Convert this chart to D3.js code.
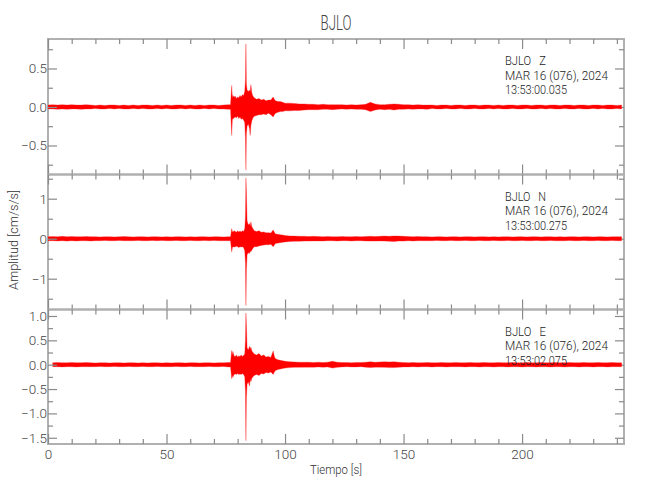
<!DOCTYPE html>
<html><head><meta charset="utf-8">
<script src="https://cdn.jsdelivr.net/npm/d3@7"></script>
<style>body{margin:0;background:#fff} svg{display:block}</style>
</head><body>
<svg id="chart" width="650" height="500"></svg>
<script>
// ---------------- DATA ----------------
const stationName = "BJLO";
const dateLabel = "MAR 16 (076), 2024";
const channelNames = ["Z", "N", "E"];
const startTimes = ["13:53:00.035", "13:53:00.275", "13:53:02.075"];
const titleText = "BJLO";
const xTitle = "Tiempo [s]";
const yTitle = "Amplitud [cm/s/s]";

const xDomain = [0, 243];
const xMajorTicks = [0, 50, 100, 150, 200];
const xMinorTicks = [10, 20, 30, 40, 60, 70, 80, 90, 110, 120, 130, 140, 160, 170, 180, 190, 210, 220, 230, 240];

const yDomainZ = [-0.877, 0.883];
const yMajorZ = [-0.5, 0, 0.5];
const yMinorZ = [-0.75, -0.25, 0.25, 0.75];
const yDomainN = [-1.77, 1.605];
const yMajorN = [-1, 0, 1];
const yMinorN = [-1.5, -0.5, 0.5, 1.5];
const yDomainE = [-1.628, 1.133];
const yMajorE = [-1.5, -1, -0.5, 0, 0.5, 1];
const yMinorE = [-1.25, -0.75, -0.25, 0.25, 0.75];

// time grid (s) for envelope samples
const timeSec = [0,2,4,6,8,10,12,14,16,18,20,22,24,26,28,30,32,34,36,38,40,42,44,46,48,50,52,54,56,58,60,62,64,66,68,70,72,74,76,
 77,77.5,77.8,78,78.5,79,79.5,80,80.5,81,81.5,82,82.5,83,83.3,83.5,83.7,84,84.5,85,85.3,85.6,86,86.5,87,88,89,90,91,92,93,94,95,95.5,96,97,98,99,100,
 102,104,106,108,110,112,114,116,118,120,122,124,126,128,130,132,134,136,138,140,142,144,146,148,150,152,154,156,158,160,
 162,164,166,168,170,172,174,176,178,180,182,184,186,188,190,192,194,196,198,200,202,204,206,208,210,212,214,216,218,220,
 222,224,226,228,230,232,234,236,238,240,242];

// Z channel upper / lower envelope (cm/s/s)
const zHi = [0.025,0.03,0.025,0.03,0.025,0.03,0.025,0.025,0.03,0.025,0.02,0.025,0.02,0.025,0.025,0.02,0.025,0.02,0.025,0.02,0.025,0.025,0.02,0.025,0.02,0.025,0.02,0.025,0.025,0.02,0.025,0.02,0.025,0.02,0.025,0.025,0.02,0.025,0.03,
 0.03,0.28,0.12,0.15,0.13,0.14,0.11,0.13,0.12,0.15,0.13,0.16,0.15,0.2,0.35,0.82,0.3,0.22,0.2,0.22,0.2,0.29,0.18,0.14,0.12,0.1,0.11,0.09,0.1,0.08,0.09,0.09,0.13,0.1,0.08,0.07,0.07,0.06,0.05,
 0.05,0.045,0.04,0.04,0.035,0.035,0.03,0.035,0.03,0.03,0.03,0.03,0.025,0.03,0.025,0.03,0.035,0.06,0.04,0.03,
 0.03,0.035,0.04,0.035,0.03,0.03,0.025,0.03,0.025,0.025,0.025,0.02,0.025,0.025,0.02,0.025,0.025,0.02,0.025,0.025,
 0.02,0.025,0.025,0.02,0.025,0.02,0.025,0.025,0.02,0.025,0.025,0.02,0.025,0.025,0.02,0.025,0.025,0.02,0.025,0.025,
 0.02,0.025,0.025,0.02,0.025,0.025,0.02,0.025,0.025,0.02,0.025];
const zLo = [-0.025,-0.025,-0.03,-0.025,-0.03,-0.025,-0.025,-0.03,-0.025,-0.025,-0.02,-0.025,-0.025,-0.02,-0.025,-0.02,-0.025,-0.025,-0.02,-0.025,-0.02,-0.025,-0.025,-0.02,-0.025,-0.02,-0.025,-0.025,-0.02,-0.025,-0.02,-0.025,-0.025,-0.02,-0.025,-0.02,-0.025,-0.025,-0.03,
 -0.03,-0.37,-0.15,-0.16,-0.14,-0.13,-0.14,-0.12,-0.15,-0.13,-0.16,-0.15,-0.17,-0.2,-0.4,-0.82,-0.35,-0.25,-0.22,-0.28,-0.37,-0.24,-0.18,-0.14,-0.12,-0.11,-0.1,-0.1,-0.09,-0.1,-0.08,-0.1,-0.13,-0.1,-0.08,-0.07,-0.06,-0.06,-0.05,
 -0.05,-0.045,-0.045,-0.04,-0.035,-0.035,-0.035,-0.03,-0.03,-0.035,-0.03,-0.025,-0.03,-0.025,-0.03,-0.03,-0.035,-0.06,-0.04,-0.03,
 -0.035,-0.03,-0.04,-0.03,-0.03,-0.025,-0.03,-0.025,-0.025,-0.03,-0.02,-0.025,-0.025,-0.02,-0.025,-0.025,-0.02,-0.025,-0.025,-0.02,
 -0.025,-0.025,-0.02,-0.025,-0.02,-0.025,-0.025,-0.02,-0.025,-0.025,-0.02,-0.025,-0.025,-0.02,-0.025,-0.02,-0.025,-0.025,-0.02,-0.025,
 -0.025,-0.02,-0.025,-0.025,-0.02,-0.025,-0.02,-0.025,-0.025,-0.02,-0.025];

// N channel
const nHi = [0.05,0.055,0.05,0.06,0.05,0.055,0.05,0.05,0.055,0.05,0.05,0.045,0.05,0.05,0.045,0.05,0.055,0.05,0.045,0.05,0.05,0.045,0.05,0.05,0.045,0.05,0.045,0.05,0.05,0.045,0.05,0.045,0.05,0.05,0.045,0.05,0.05,0.045,0.05,
 0.05,0.25,0.18,0.17,0.2,0.18,0.16,0.2,0.17,0.19,0.17,0.2,0.18,0.25,0.55,1.52,1.17,0.45,0.35,0.38,0.32,0.42,0.3,0.25,0.2,0.18,0.2,0.16,0.17,0.15,0.15,0.14,0.22,0.16,0.12,0.11,0.1,0.09,0.08,
 0.07,0.065,0.06,0.06,0.055,0.06,0.055,0.05,0.055,0.05,0.05,0.055,0.05,0.05,0.055,0.05,0.055,0.06,0.055,0.06,
 0.065,0.06,0.07,0.065,0.06,0.055,0.05,0.055,0.05,0.05,0.045,0.05,0.05,0.045,0.05,0.05,0.045,0.05,0.05,0.045,
 0.05,0.05,0.045,0.05,0.045,0.05,0.05,0.045,0.05,0.05,0.045,0.05,0.05,0.045,0.05,0.05,0.045,0.05,0.045,0.05,
 0.05,0.045,0.05,0.05,0.045,0.05,0.05,0.045,0.05,0.05,0.05];
const nLo = [-0.05,-0.05,-0.055,-0.05,-0.06,-0.05,-0.055,-0.05,-0.05,-0.055,-0.05,-0.05,-0.045,-0.05,-0.05,-0.045,-0.05,-0.05,-0.05,-0.045,-0.05,-0.05,-0.045,-0.05,-0.045,-0.05,-0.05,-0.045,-0.05,-0.05,-0.045,-0.05,-0.05,-0.045,-0.05,-0.045,-0.05,-0.05,-0.05,
 -0.05,-0.33,-0.22,-0.2,-0.21,-0.2,-0.19,-0.2,-0.22,-0.2,-0.21,-0.2,-0.22,-0.3,-0.6,-1.67,-0.78,-0.4,-0.35,-0.37,-0.3,-0.33,-0.28,-0.24,-0.2,-0.2,-0.18,-0.17,-0.16,-0.15,-0.15,-0.14,-0.2,-0.16,-0.12,-0.11,-0.1,-0.09,-0.08,
 -0.07,-0.065,-0.065,-0.06,-0.06,-0.055,-0.055,-0.055,-0.05,-0.05,-0.055,-0.05,-0.05,-0.055,-0.05,-0.05,-0.055,-0.06,-0.06,-0.055,
 -0.06,-0.065,-0.07,-0.06,-0.06,-0.05,-0.055,-0.05,-0.05,-0.05,-0.05,-0.045,-0.05,-0.05,-0.045,-0.05,-0.05,-0.045,-0.05,-0.05,
 -0.045,-0.05,-0.05,-0.045,-0.05,-0.05,-0.045,-0.05,-0.05,-0.045,-0.05,-0.05,-0.045,-0.05,-0.05,-0.045,-0.05,-0.05,-0.05,-0.045,
 -0.05,-0.05,-0.045,-0.05,-0.05,-0.045,-0.05,-0.05,-0.045,-0.05,-0.05];

// E channel (record starts ~2 s later)
const eHi = [null,0.04,0.045,0.04,0.04,0.045,0.04,0.04,0.045,0.04,0.035,0.04,0.04,0.035,0.04,0.04,0.035,0.04,0.04,0.035,0.04,0.035,0.04,0.04,0.035,0.04,0.035,0.04,0.04,0.035,0.04,0.04,0.035,0.04,0.04,0.035,0.04,0.04,0.045,
 0.045,0.29,0.2,0.27,0.18,0.17,0.2,0.16,0.18,0.17,0.2,0.17,0.19,0.22,0.5,1.06,0.82,0.35,0.3,0.38,0.32,0.36,0.28,0.25,0.22,0.2,0.23,0.18,0.2,0.16,0.17,0.15,0.28,0.17,0.12,0.1,0.09,0.08,0.07,
 0.06,0.055,0.05,0.05,0.05,0.045,0.05,0.045,0.05,0.07,0.05,0.045,0.045,0.04,0.045,0.045,0.05,0.06,0.05,0.055,
 0.06,0.055,0.06,0.05,0.045,0.04,0.045,0.04,0.04,0.045,0.04,0.04,0.045,0.04,0.04,0.045,0.04,0.04,0.045,0.04,
 0.04,0.045,0.04,0.04,0.045,0.04,0.04,0.045,0.04,0.04,0.045,0.04,0.04,0.045,0.04,0.04,0.045,0.04,0.04,0.045,
 0.04,0.04,0.045,0.04,0.04,0.045,0.04,0.04,0.045,0.04,0.04];
const eLo = [null,-0.04,-0.04,-0.045,-0.04,-0.04,-0.045,-0.04,-0.04,-0.04,-0.04,-0.035,-0.04,-0.04,-0.035,-0.04,-0.04,-0.035,-0.04,-0.04,-0.035,-0.04,-0.04,-0.035,-0.04,-0.04,-0.04,-0.035,-0.04,-0.04,-0.035,-0.04,-0.04,-0.04,-0.035,-0.04,-0.04,-0.035,-0.045,
 -0.045,-0.29,-0.22,-0.26,-0.2,-0.19,-0.2,-0.18,-0.2,-0.19,-0.2,-0.18,-0.2,-0.25,-0.55,-1.56,-0.68,-0.4,-0.35,-0.44,-0.3,-0.35,-0.28,-0.25,-0.22,-0.2,-0.22,-0.18,-0.19,-0.16,-0.17,-0.15,-0.2,-0.15,-0.12,-0.1,-0.09,-0.08,-0.07,
 -0.06,-0.055,-0.055,-0.05,-0.05,-0.05,-0.045,-0.05,-0.045,-0.07,-0.055,-0.045,-0.04,-0.045,-0.045,-0.04,-0.05,-0.06,-0.05,-0.05,
 -0.055,-0.06,-0.06,-0.05,-0.045,-0.045,-0.04,-0.045,-0.04,-0.04,-0.045,-0.04,-0.04,-0.045,-0.04,-0.04,-0.04,-0.045,-0.04,-0.04,
 -0.045,-0.04,-0.04,-0.045,-0.04,-0.04,-0.045,-0.04,-0.04,-0.045,-0.04,-0.04,-0.045,-0.04,-0.04,-0.045,-0.04,-0.04,-0.045,-0.04,
 -0.04,-0.045,-0.04,-0.04,-0.045,-0.04,-0.04,-0.045,-0.04,-0.04,-0.04];

// ---------------- DRAWING ----------------
const FONT = "Roboto,'Liberation Sans',sans-serif";
const FONT_WEIGHT = 300;
const AXIS_COLOR = "#b0b0b0";
const TICK_COLOR = "#8a8a8a";
const xLeft = 48, xRight = 624;
const panelTops = [39, 174.5, 309.5];
const panelBottoms = [174.5, 309.5, 444];

const svg = d3.select("#chart");
const x = d3.scaleLinear().domain(xDomain).range([xLeft, xRight]);

const panels = [
  {hi: zHi, lo: zLo, dom: yDomainZ, major: yMajorZ, minor: yMinorZ, fmt: d3.format(".1f")},
  {hi: nHi, lo: nLo, dom: yDomainN, major: yMajorN, minor: yMinorN, fmt: d3.format("d")},
  {hi: eHi, lo: eLo, dom: yDomainE, major: yMajorE, minor: yMinorE, fmt: d3.format(".1f")}
];

const frameLayer = svg.append("g");
const traceLayer = svg.append("g");
const textLayer = svg.append("g");

function styleAxis(g) {
  g.select(".domain").remove();
  g.selectAll(".tick line").attr("stroke", TICK_COLOR).attr("stroke-width", 1.2);
  g.selectAll(".tick text").attr("fill", "#444").attr("font-family", FONT)
    .attr("font-weight", FONT_WEIGHT).attr("font-size", 13.5);
}

panels.forEach((p, i) => {
  const top = panelTops[i], bot = panelBottoms[i];
  const y = d3.scaleLinear().domain(p.dom).range([bot, top]);

  frameLayer.append("rect")
    .attr("x", xLeft).attr("y", top).attr("width", xRight - xLeft).attr("height", bot - top)
    .attr("fill", "none").attr("stroke", AXIS_COLOR).attr("stroke-width", 2);

  frameLayer.append("g").attr("transform", `translate(${xLeft},0)`)
    .call(d3.axisLeft(y).tickValues(p.minor).tickSize(-5).tickFormat(""))
    .call(styleAxis);
  textLayer.append("g").attr("transform", `translate(${xLeft},0)`)
    .call(d3.axisLeft(y).tickValues(p.major).tickSize(-9).tickPadding(1).tickFormat(p.fmt))
    .call(styleAxis);
  frameLayer.append("g").attr("transform", `translate(${xRight},0)`)
    .call(d3.axisRight(y).tickValues(p.minor).tickSize(-5).tickFormat(""))
    .call(styleAxis);
  frameLayer.append("g").attr("transform", `translate(${xRight},0)`)
    .call(d3.axisRight(y).tickValues(p.major).tickSize(-9).tickFormat(""))
    .call(styleAxis);

  frameLayer.append("g").attr("transform", `translate(0,${top})`)
    .call(d3.axisTop(x).tickValues(xMinorTicks).tickSize(-5).tickFormat(""))
    .call(styleAxis);
  frameLayer.append("g").attr("transform", `translate(0,${top})`)
    .call(d3.axisTop(x).tickValues(xMajorTicks).tickSize(-10).tickFormat(""))
    .call(styleAxis);
  frameLayer.append("g").attr("transform", `translate(0,${bot})`)
    .call(d3.axisBottom(x).tickValues(xMinorTicks).tickSize(-5).tickFormat(""))
    .call(styleAxis);
  const isLast = i === panels.length - 1;
  (isLast ? textLayer : frameLayer).append("g").attr("transform", `translate(0,${bot})`)
    .call(d3.axisBottom(x).tickValues(xMajorTicks).tickSize(-10).tickPadding(5)
      .tickFormat(isLast ? d3.format("d") : ""))
    .call(styleAxis);

  const n = Math.min(timeSec.length, p.hi.length, p.lo.length);
  const data = d3.range(n).map(k => ({t: timeSec[k], hi: p.hi[k], lo: p.lo[k]}));
  const area = d3.area()
    .defined(d => d.hi != null && d.lo != null)
    .x(d => x(d.t)).y0(d => y(d.lo)).y1(d => y(d.hi));
  traceLayer.append("path").datum(data)
    .attr("d", area)
    .attr("fill", "#ff0000")
    .attr("stroke", "#ff2020").attr("stroke-width", 0.4).attr("stroke-opacity", 0.8)
    .attr("stroke-linejoin", "round");

  const lines = [`${stationName}   ${channelNames[i]}`, dateLabel, startTimes[i]];
  const widths = [41, 103, 62];
  lines.forEach((s, j) => {
    textLayer.append("text")
      .attr("x", 505).attr("y", top + 26 + j * 14.5)
      .attr("font-family", FONT).attr("font-weight", FONT_WEIGHT)
      .attr("font-size", 13.5).attr("fill", "#222")
      .attr("textLength", widths[j]).attr("lengthAdjust", "spacingAndGlyphs")
      .attr("xml:space", "preserve")
      .style("white-space", "pre")
      .text(s);
  });
});

textLayer.append("text")
  .attr("x", 336).attr("y", 30).attr("text-anchor", "middle")
  .attr("font-family", FONT).attr("font-weight", FONT_WEIGHT)
  .attr("font-size", 19.5).attr("fill", "#444")
  .attr("textLength", 31).attr("lengthAdjust", "spacingAndGlyphs")
  .text(titleText);

textLayer.append("text")
  .attr("x", 336).attr("y", 474).attr("text-anchor", "middle")
  .attr("font-family", FONT).attr("font-weight", FONT_WEIGHT)
  .attr("font-size", 13.5).attr("fill", "#333")
  .attr("textLength", 52).attr("lengthAdjust", "spacingAndGlyphs")
  .text(xTitle);

textLayer.append("text")
  .attr("transform", "translate(17.5,240) rotate(-90)")
  .attr("text-anchor", "middle")
  .attr("font-family", FONT).attr("font-weight", FONT_WEIGHT)
  .attr("font-size", 13.5).attr("fill", "#333")
  .attr("textLength", 100).attr("lengthAdjust", "spacingAndGlyphs")
  .text(yTitle);
</script>
</body></html>
